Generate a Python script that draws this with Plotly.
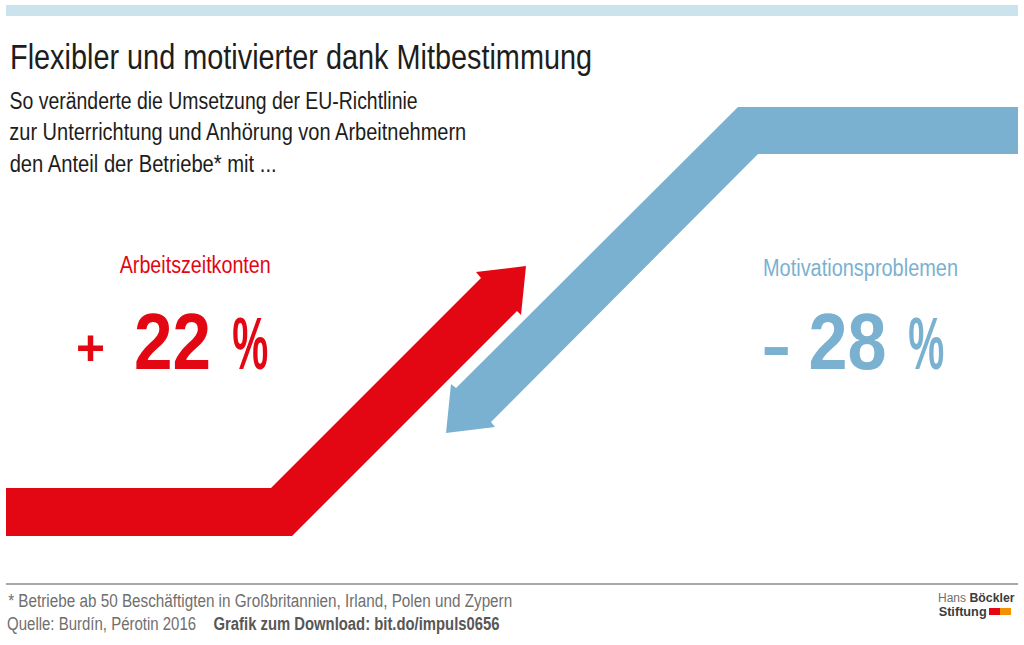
import json

import plotly.graph_objects as go

# ---------------- Data -------------------
TITLE = "Flexibler und motivierter dank Mitbestimmung"
SUBTITLE_LINES = [
    "So veränderte die Umsetzung der EU-Richtlinie",
    "zur Unterrichtung und Anhörung von Arbeitnehmern",
    "den Anteil der Betriebe* mit ...",
]
CATEGORIES = ["Arbeitszeitkonten", "Motivationsproblemen"]
CHANGE_LABELS = ["+ 22 %", "– 28 %"]
FOOTNOTE = "* Betriebe ab 50 Beschäftigten in Großbritannien, Irland, Polen und Zypern"
SOURCE = "Quelle: Burdín, Pérotin 2016"
DOWNLOAD = "Grafik zum Download: bit.do/impuls0656"

# Arrow outlines
RED_ARROW_X = [6, 271, 481, 476, 526, 521, 517, 292, 6]
RED_ARROW_Y = [488, 488, 278, 272, 266, 315, 311, 536, 536]
BLUE_ARROW_X = [1018, 738, 456, 451, 446, 495, 491, 758, 1018]
BLUE_ARROW_Y = [107, 107, 388, 384, 433, 427, 422, 154, 154]

RED = "#e30613"
BLUE = "#7bb1d0"
GREY = "#6f6f6e"
DARK = "#1d1d1b"
FONT = "Liberation Sans"

fig = go.Figure()
fig.add_trace(go.Scatter(x=RED_ARROW_X, y=RED_ARROW_Y, mode="lines", fill="toself",
                         fillcolor=RED, line=dict(width=0), hoverinfo="skip"))
fig.add_trace(go.Scatter(x=BLUE_ARROW_X, y=BLUE_ARROW_Y, mode="lines", fill="toself",
                         fillcolor=BLUE, line=dict(width=0), hoverinfo="skip"))

# the reference uses a condensed face, so every label gets squeezed to its measured width
text_widths = []


def add_text(x0, x1, y, text, size, color=DARK, weight=400):
    fig.add_annotation(x=(x0 + x1) / 2, y=y, text=text, showarrow=False, xanchor="center", yanchor="middle",
                       font=dict(family=FONT, size=size, color=color, weight=weight))
    text_widths.append(x1 - x0)


add_text(10, 592, 56, TITLE, 35)
add_text(9, 417, 101, SUBTITLE_LINES[0], 23)
add_text(9, 466, 132, SUBTITLE_LINES[1], 23)
add_text(9, 276, 164, SUBTITLE_LINES[2], 23)

add_text(119, 270, 265, CATEGORIES[0], 23, RED)
add_text(763, 958, 268, CATEGORIES[1], 23, BLUE)

# sign, number and percent sign have their own sizes in the reference
plus, red_number, red_percent = CHANGE_LABELS[0].split()
minus, blue_number, blue_percent = CHANGE_LABELS[1].split()
add_text(76, 105, 348, plus, 50, RED, 700)
add_text(134, 211, 341, red_number, 80, RED, 700)
add_text(232, 268, 343, red_percent, 75, RED, 700)
add_text(763, 789, 344, minus, 80, BLUE, 700)
add_text(808, 886, 341, blue_number, 80, BLUE, 700)
add_text(908, 944, 343, blue_percent, 75, BLUE, 700)

add_text(8, 512, 601, FOOTNOTE, 18, GREY)
add_text(7, 196, 624, SOURCE, 18, GREY)
add_text(213, 499, 624, DOWNLOAD, 18, "#575756", 700)

# Logo
add_text(938, 966, 598, "Hans", 12, GREY)
add_text(969, 1014, 598, "Böckler", 12, "#3c3c3b", 700)
add_text(938, 986, 612, "Stiftung", 12, "#3c3c3b", 700)

# Top band, footer rule, logo squares
fig.add_shape(type="rect", x0=6, x1=1018, y0=5, y1=16, fillcolor="#cae3ed", line_width=0, layer="below")
fig.add_shape(type="line", x0=6, x1=1018, y0=584, y1=584, line=dict(color="#8c8c8c", width=1.5))
fig.add_shape(type="rect", x0=989, x1=1000, y0=608, y1=615, fillcolor=RED, line_width=0)
fig.add_shape(type="rect", x0=1000, x1=1011, y0=608, y1=615, fillcolor="#f39200", line_width=0)

fig.update_layout(
    width=1024, height=645,
    margin=dict(l=0, r=0, t=0, b=0),
    paper_bgcolor="white", plot_bgcolor="white",
    showlegend=False,
    xaxis=dict(range=[0, 1024], visible=False),
    yaxis=dict(range=[645, 0], visible=False),
)

post_script = """
document.body.style.margin = '0';
document.body.style.overflow = 'hidden';
var widths = %s;
document.querySelectorAll('.annotation-text').forEach(function (el, i) {
    el.setAttribute('textLength', widths[i]);
    el.setAttribute('lengthAdjust', 'spacingAndGlyphs');
});
""" % json.dumps(text_widths)

fig.write_html("out.html", config={"displayModeBar": False}, post_script=post_script)
